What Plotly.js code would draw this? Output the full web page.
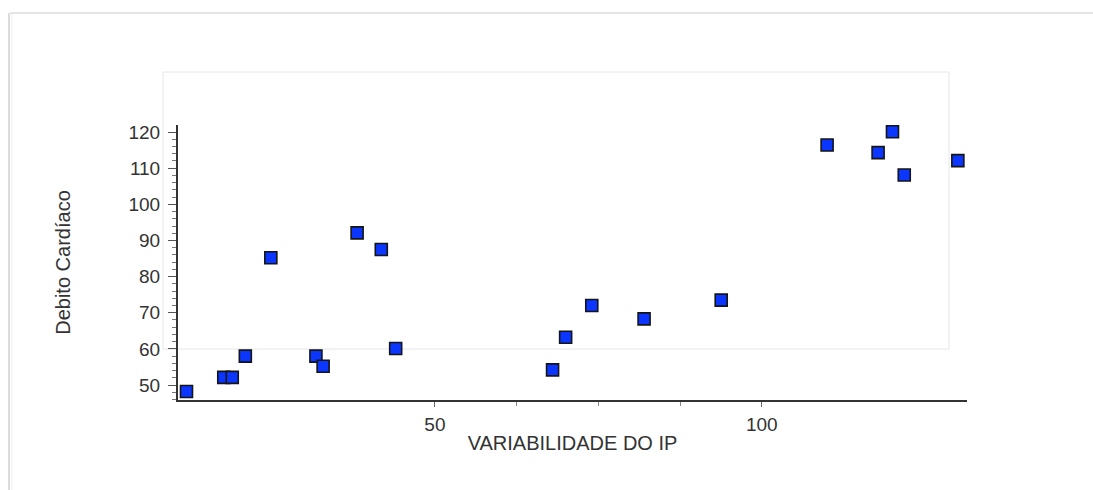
<!DOCTYPE html>
<html>
<head>
<meta charset="utf-8">
<script src="https://cdn.plot.ly/plotly-3.0.1.min.js"></script>
<style>
html,body{margin:0;padding:0;background:#fff;}
#chart{width:1093px;height:490px;}
</style>
</head>
<body>
<div id="chart"></div>
<script>
// Data
const variabilidadeIP = [12.0, 17.7, 19.0, 21.0, 24.9, 31.8, 32.9, 38.1, 41.8, 44.0,
                         68.0, 70.0, 74.0, 82.0, 93.8, 110.0, 117.8, 120.0, 121.8, 130.0];
const debitoCardiaco = [48.2, 52.1, 52.1, 58.0, 85.2, 58.0, 55.2, 92.1, 87.5, 60.1,
                        54.2, 63.2, 72.0, 68.3, 73.5, 116.4, 114.3, 120.1, 108.1, 112.1];
const xTickVals = [50, 100];
const xMinorTickVals = [62.5, 75, 87.5];
const xTitle = "VARIABILIDADE DO IP";
const yTitle = "Debito Cardíaco";

const L = 178, R = 967, T = 125, B = 400, W = 1093, H = 490;
const pw = R - L, ph = B - T;
const px = v => (v - L) / pw;
const py = v => (B - v) / ph;

const trace = {
  type: 'scatter',
  mode: 'markers',
  x: variabilidadeIP,
  y: debitoCardiaco,
  cliponaxis: false,
  marker: {
    symbol: 'square',
    size: 12,
    color: '#0a36ff',
    line: {color: '#151515', width: 1.6}
  },
  hoverinfo: 'x+y'
};

const FAM = 'Liberation Sans, Arial, sans-serif';
const tickFont = {family: FAM, size: 19, color: '#333'};

const layout = {
  width: W, height: H,
  margin: {l: L, r: W - R, t: T, b: H - B},
  paper_bgcolor: '#fff',
  plot_bgcolor: 'rgba(0,0,0,0)',
  showlegend: false,
  font: tickFont,
  xaxis: {
    range: [10.7, 131.4],
    tickmode: 'array', tickvals: xTickVals,
    ticks: 'outside', ticklen: 5, tickwidth: 1, tickcolor: '#666',
    showgrid: false, zeroline: false,
    showline: true, linecolor: '#333', linewidth: 2,
    tickfont: tickFont,
    ticklabelstandoff: 1,
    minor: {tickmode: 'array', tickvals: xMinorTickVals, ticks: 'outside', ticklen: 4, tickcolor: '#888', showgrid: false},
    title: {text: xTitle, font: {family: FAM, size: 20, color: '#333'}, standoff: 2},
    automargin: false,
    fixedrange: true
  },
  yaxis: {
    range: [45.85, 121.95],
    tick0: 0, dtick: 10,
    ticks: 'outside', ticklen: 8, tickwidth: 1, tickcolor: '#555',
    showgrid: false, zeroline: false,
    showline: true, linecolor: '#333', linewidth: 2,
    tickfont: tickFont,
    ticklabelstandoff: 4,
    minor: {dtick: 2, tick0: 0, ticks: 'outside', ticklen: 4, tickcolor: '#777', showgrid: false},
    title: {text: yTitle, font: {family: FAM, size: 20, color: '#333'}, standoff: 52},
    automargin: false,
    fixedrange: true
  },
  shapes: [
    // faint inner frame
    {type: 'rect', xref: 'paper', yref: 'paper', layer: 'below',
     x0: px(163), x1: px(949), y0: py(349), y1: py(72),
     line: {color: '#e6e6e6', width: 1}, fillcolor: 'rgba(0,0,0,0)'},
    // outer frame top
    {type: 'line', xref: 'paper', yref: 'paper', layer: 'below',
     x0: px(10), x1: px(1093), y0: py(13), y1: py(13),
     line: {color: '#dcdcdc', width: 1.5}},
    // outer frame left
    {type: 'line', xref: 'paper', yref: 'paper', layer: 'below',
     x0: px(9), x1: px(9), y0: py(13), y1: py(490),
     line: {color: '#d0d0d0', width: 1.5}},
    {type: 'line', xref: 'paper', yref: 'paper', layer: 'below',
     x0: px(12), x1: px(12), y0: py(14), y1: py(490),
     line: {color: '#ededed', width: 1}}
  ]
};

Plotly.newPlot('chart', [trace], layout, {displayModeBar: false});
</script>
</body>
</html>
